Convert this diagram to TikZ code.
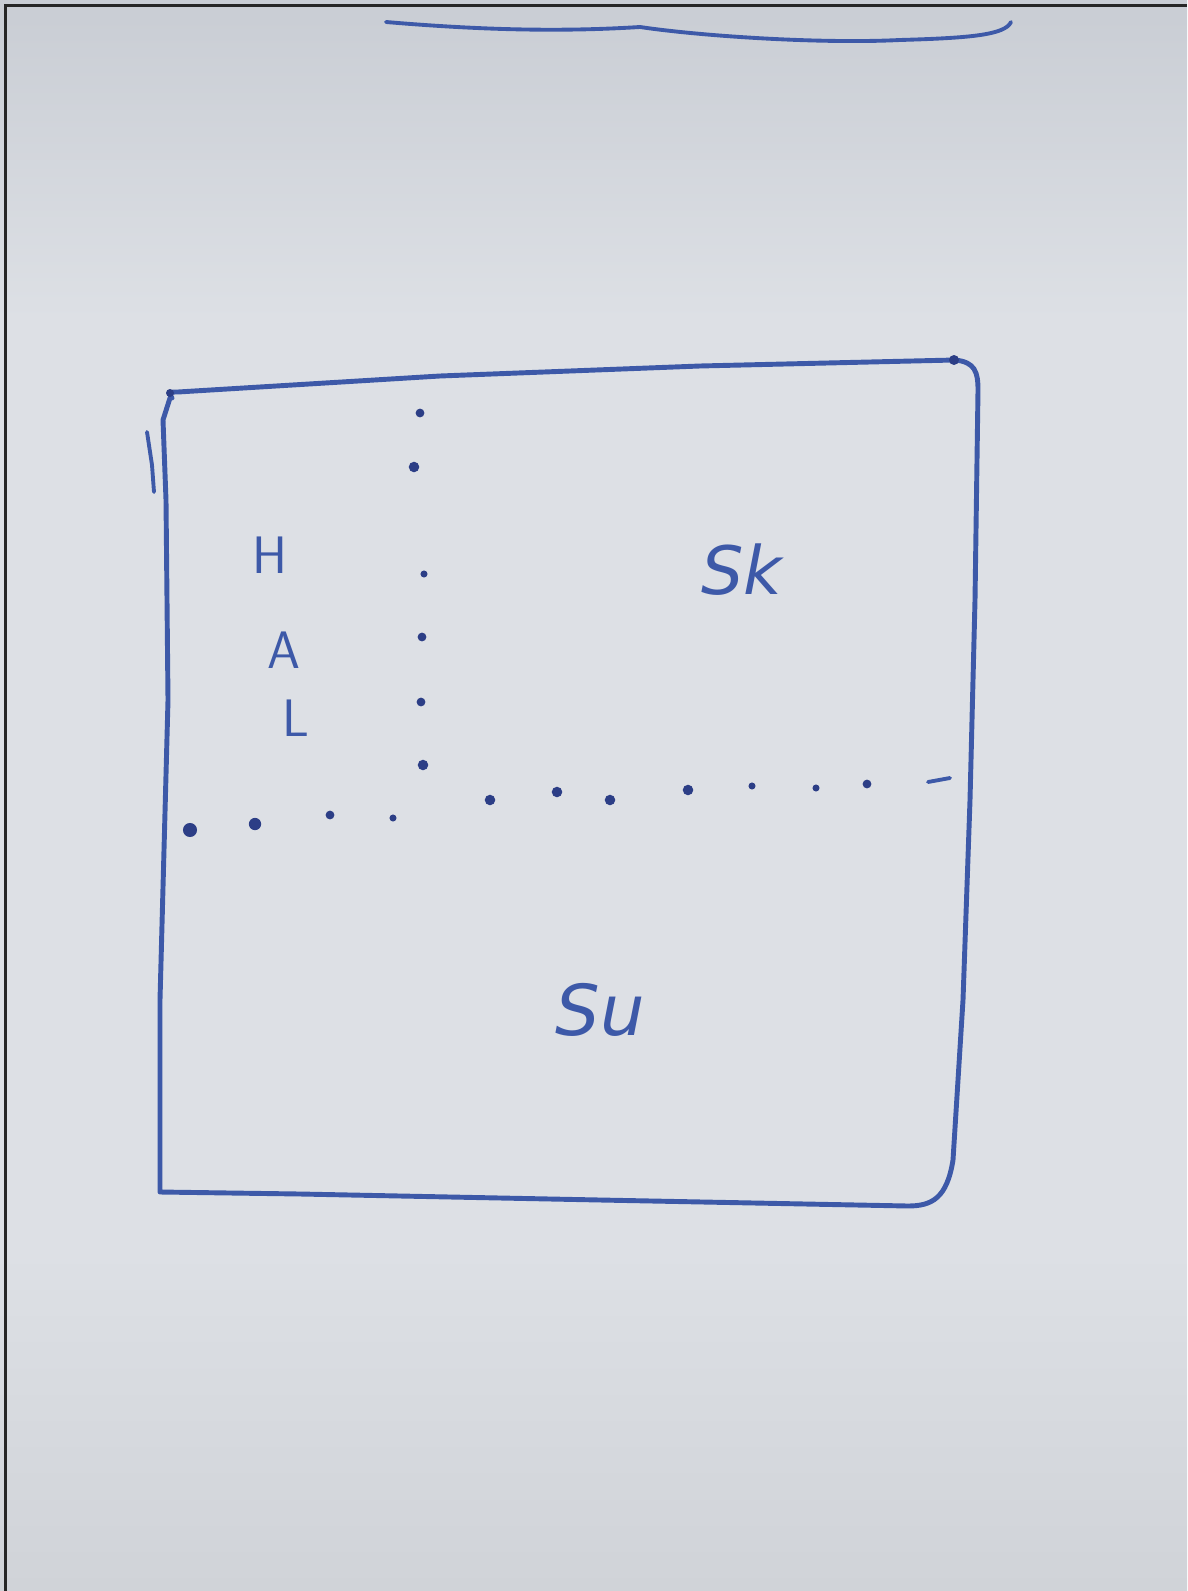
\documentclass[tikz,border=0pt]{standalone}
\usepackage{fontspec}
\setmainfont{DejaVu Sans}
\definecolor{paper}{HTML}{DDE0E5}
\definecolor{papertop}{HTML}{C9CDD4}
\definecolor{paperbot}{HTML}{D0D3D8}
\definecolor{pen}{HTML}{3D59A8}
\definecolor{pendark}{HTML}{2C3E86}
\tikzset{
  penline/.style={draw=pen, line width=2.8pt, line cap=round, line join=round},
  dotmark/.style={circle, fill=pendark, inner sep=0pt, minimum size=#1},
  hand/.style={text=pen, font=\fontsize{30}{30}\selectfont\sffamily},
}
\begin{document}
\begin{tikzpicture}[x=0.02cm, y=-0.02cm]
\useasboundingbox (0,0) rectangle (1187,1591);
\fill[paper] (0,0) rectangle (1187,1591);
\fill[top color=papertop, bottom color=paper, draw=none] (0,0) rectangle (1187,320);
\fill[bottom color=paperbot, top color=paper, draw=none] (0,1250) rectangle (1187,1591);
% photo frame on left and top
\draw[black!85, line width=1.8pt] (5.5,1591) -- (5.5,5.5) -- (1187,5.5);
% scribble at top edge
\draw[penline, line width=2.2pt] (386,22) .. controls (480,30) and (560,32) .. (640,27)
  .. controls (700,36) and (820,44) .. (900,40) .. controls (970,38) and (1005,35) .. (1011,22);
% main box
\draw[penline] (172,398) .. controls (168,392) and (170,392) .. (178,392)
  -- (440,376) -- (700,366) -- (955,360)
  .. controls (975,362) and (978,372) .. (978,390)
  -- (975,600) -- (970,800) -- (963,1000) -- (953,1160)
  .. controls (947,1198) and (932,1206) .. (908,1206)
  -- (600,1200) -- (300,1194) -- (160,1192)
  -- (160,1000) -- (168,700) -- (166,500) -- (163,420) -- (170,398);
\draw[penline, line width=2.2pt] (147,432) -- (152,465) -- (154,492);
% dark spots at corners
\fill[pendark] (170,393) circle (4);
\fill[pendark] (954,360) circle (5);
% vertical dotted line
\foreach \x/\y/\s in {420/413/5pt, 414/467/6pt, 424/574/4pt, 422/637/5pt, 421/702/5pt, 423/765/6pt}
  \node[dotmark=\s] at (\x,\y) {};
% horizontal dotted line
\foreach \x/\y/\s in {190/830/8pt, 255/824/7pt, 330/815/5pt, 393/818/4pt, 490/800/6pt, 557/792/6pt, 610/800/6pt, 688/790/6pt, 752/786/4pt, 816/788/4pt, 867/784/5pt}
  \node[dotmark=\s] at (\x,\y) {};
\draw[penline, line width=2.2pt] (928,782) -- (950,778);
% labels
\node[hand] (h) at (270,555) {H};
\node[hand] (a) at (284,650) {A};
\node[hand] (l) at (296,718) {L};
\node[hand, font=\fontsize{38}{38}\selectfont\itshape] (sk) at (742,570) {Sk};
\node[hand, font=\fontsize{40}{40}\selectfont\itshape] (su) at (600,1010) {Su};
\end{tikzpicture}
\end{document}
